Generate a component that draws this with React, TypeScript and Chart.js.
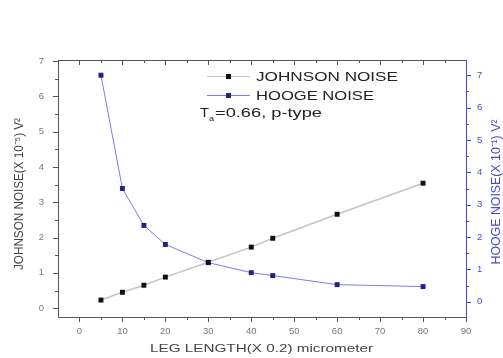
import React, { useEffect, useRef } from "react";
import { Chart, registerables } from "chart.js";

Chart.register(...registerables);

const legLength = [5, 10, 15, 20, 30, 40, 45, 60, 80];
const johnsonNoise = [0.23, 0.45, 0.65, 0.88, 1.3, 1.73, 1.98, 2.66, 3.54];
const hoogeNoise = [7.0, 3.5, 2.36, 1.77, 1.21, 0.9, 0.81, 0.53, 0.47];
const xTicks = [0, 10, 20, 30, 40, 50, 60, 70, 80, 90];
const leftTicks = [0, 1, 2, 3, 4, 5, 6, 7];
const rightTicks = [0, 1, 2, 3, 4, 5, 6, 7];

const FONT = "'Liberation Sans', Arial, sans-serif";
const AXIS_DARK = "#555555";
const AXIS_BLUE = "#4a4ac8";
const J_LINE = "#c4c4c4";
const J_MARK = "#111111";
const H_LINE = "#7c7cea";
const H_MARK = "#22228c";

// draw text stretched to a given length along its direction
function drawFit(
  ctx: CanvasRenderingContext2D,
  text: string,
  x: number,
  y: number,
  len: number,
  size: number,
  opts: { rot?: number; cross?: number; align?: "left" | "center"; color?: string } = {}
) {
  ctx.save();
  ctx.font = `${size}px ${FONT}`;
  ctx.fillStyle = opts.color || "#333";
  ctx.textBaseline = "middle";
  ctx.textAlign = opts.align || "center";
  const w = ctx.measureText(text).width;
  ctx.translate(x, y);
  if (opts.rot) ctx.rotate(opts.rot);
  ctx.scale(len / w, opts.cross || 1);
  ctx.fillText(text, 0, 0);
  ctx.restore();
}

const decorPlugin = {
  id: "decor",
  afterDraw(chart: any) {
    const ctx = chart.ctx as CanvasRenderingContext2D;
    const { left, right, top, bottom } = chart.chartArea;
    const xs = chart.scales.x;
    const yl = chart.scales.y;
    const yr = chart.scales.y2;
    ctx.save();
    ctx.lineWidth = 1;
    ctx.strokeStyle = AXIS_DARK;
    ctx.beginPath();
    ctx.moveTo(left + 0.5, top);
    ctx.lineTo(left + 0.5, bottom + 0.5);
    ctx.lineTo(right, bottom + 0.5);
    ctx.moveTo(left, top + 0.5);
    ctx.lineTo(right, top + 0.5);
    ctx.stroke();
    for (let v = 0; v <= 90; v += 5) {
      const px = Math.round(xs.getPixelForValue(v)) + 0.5;
      const len = v % 10 === 0 ? 5 : 3;
      ctx.beginPath();
      ctx.moveTo(px, bottom);
      ctx.lineTo(px, bottom + len);
      ctx.moveTo(px, top);
      ctx.lineTo(px, top + len);
      ctx.stroke();
    }
    for (let v = 0; v <= 7; v += 0.5) {
      const py = Math.round(yl.getPixelForValue(v)) + 0.5;
      const len = Number.isInteger(v) ? 5 : 3;
      ctx.beginPath();
      ctx.moveTo(left, py);
      ctx.lineTo(left - len, py);
      ctx.stroke();
    }
    ctx.strokeStyle = AXIS_BLUE;
    ctx.beginPath();
    ctx.moveTo(right + 0.5, top);
    ctx.lineTo(right + 0.5, bottom + 0.5);
    ctx.stroke();
    for (let v = 0; v <= 7; v += 0.5) {
      const py = Math.round(yr.getPixelForValue(v)) + 0.5;
      const len = Number.isInteger(v) ? 5 : 3;
      ctx.beginPath();
      ctx.moveTo(right, py);
      ctx.lineTo(right + len, py);
      ctx.stroke();
    }
    // axis titles
    drawFit(ctx, "LEG LENGTH(X 0.2) micrometer", 261.5, 349, 223, 11, { color: "#444" });
    drawFit(ctx, "JOHNSON NOISE(X 10\u207B\u2075) V\u00B2", 20, 194, 152, 10, {
      rot: -Math.PI / 2,
      cross: 1.25,
      color: "#444",
    });
    drawFit(ctx, "HOOGE NOISE(X 10\u207B\u00B9) V\u00B2", 497, 192, 145, 10, {
      rot: -Math.PI / 2,
      cross: 1.25,
      color: AXIS_BLUE,
    });
    // legend
    const items = [
      { label: "JOHNSON NOISE", line: J_LINE, mark: J_MARK, y: 76, len: 142 },
      { label: "HOOGE NOISE", line: H_LINE, mark: H_MARK, y: 95, len: 118 },
    ];
    for (const it of items) {
      ctx.strokeStyle = it.line;
      ctx.lineWidth = 1.2;
      ctx.beginPath();
      ctx.moveTo(207, it.y + 0.5);
      ctx.lineTo(250, it.y + 0.5);
      ctx.stroke();
      ctx.fillStyle = it.mark;
      ctx.fillRect(226, it.y - 2, 5, 5);
      drawFit(ctx, it.label, 256, it.y + 1, it.len, 13, { align: "left", color: "#222" });
    }
    drawFit(ctx, "T", 200, 113, 9, 13, { align: "left", color: "#222" });
    drawFit(ctx, "a", 209, 119, 5, 8, { align: "left", color: "#222" });
    drawFit(ctx, "=0.66, p-type", 215, 113, 107, 13, { align: "left", color: "#222" });
    ctx.restore();
  },
};

export default function App() {
  const ref = useRef<HTMLCanvasElement | null>(null);
  useEffect(() => {
    if (!ref.current) return;
    const tickFont = { family: FONT, size: 9.5 };
    const chart = new Chart(ref.current, {
      type: "line",
      data: {
        datasets: [
          {
            label: "JOHNSON NOISE",
            data: legLength.map((x, i) => ({ x, y: johnsonNoise[i] })),
            yAxisID: "y",
            borderColor: J_LINE,
            borderWidth: 1.5,
            pointStyle: "rect",
            pointRadius: 3.5,
            pointBackgroundColor: J_MARK,
            pointBorderColor: J_MARK,
            pointBorderWidth: 0,
            tension: 0,
          },
          {
            label: "HOOGE NOISE",
            data: legLength.map((x, i) => ({ x, y: hoogeNoise[i] })),
            yAxisID: "y2",
            borderColor: H_LINE,
            borderWidth: 1,
            pointStyle: "rect",
            pointRadius: 3.5,
            pointBackgroundColor: H_MARK,
            pointBorderColor: H_MARK,
            pointBorderWidth: 0,
            tension: 0,
          },
        ],
      },
      options: {
        animation: false,
        responsive: false,
        layout: { padding: { top: 60, left: 0, right: 0, bottom: 0 } },
        plugins: { legend: { display: false }, tooltip: { enabled: false } },
        scales: {
          x: {
            type: "linear",
            min: -5,
            max: 90,
            afterBuildTicks: (s: any) => {
              s.ticks = xTicks.map((v) => ({ value: v }));
            },
            afterFit: (s: any) => {
              s.height = 41;
            },
            grid: { display: false, drawTicks: false },
            border: { display: false },
            ticks: { padding: 9, color: "#777", font: tickFont, maxRotation: 0 },
          },
          y: {
            type: "linear",
            position: "left",
            min: -0.25,
            max: 7.03,
            afterBuildTicks: (s: any) => {
              s.ticks = leftTicks.map((v) => ({ value: v }));
            },
            afterFit: (s: any) => {
              s.width = 58;
            },
            grid: { display: false, drawTicks: false },
            border: { display: false },
            ticks: { padding: 14, color: "#777", font: tickFont },
          },
          y2: {
            type: "linear",
            position: "right",
            min: -0.47,
            max: 7.47,
            afterBuildTicks: (s: any) => {
              s.ticks = rightTicks.map((v) => ({ value: v }));
            },
            afterFit: (s: any) => {
              s.width = 37;
            },
            grid: { display: false, drawTicks: false },
            border: { display: false },
            ticks: { padding: 11, color: AXIS_BLUE, font: tickFont },
          },
        },
      },
      plugins: [decorPlugin],
    });
    return () => chart.destroy();
  }, []);
  return (
    <div style={{ position: "fixed", left: 0, top: 0, width: 503, height: 358, background: "#fff" }}>
      <canvas ref={ref} width={503} height={358} style={{ display: "block" }} />
    </div>
  );
}
